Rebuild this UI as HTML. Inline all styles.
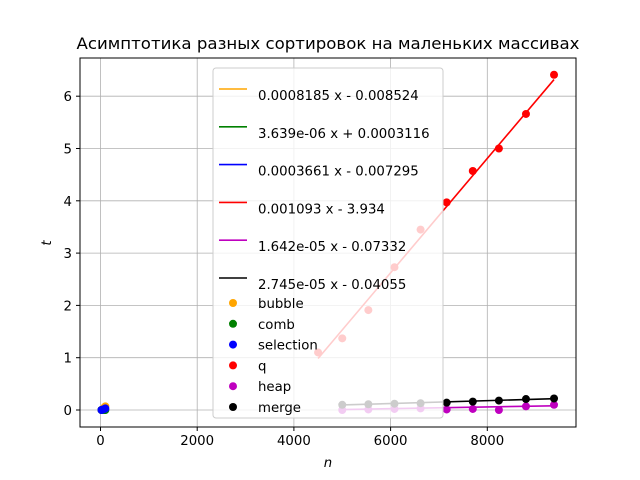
<!DOCTYPE html>
<html><head><meta charset="utf-8"><style>
body{margin:0;background:#fff}
svg{display:block;font-family:"DejaVu Sans","Liberation Sans",sans-serif}
</style></head><body>
<svg id="c" width="640" height="480" viewBox="0 0 640 480"></svg>
<script>
const xTicks=[0,2000,4000,6000,8000];
const yTicks=[0,1,2,3,4,5,6];
const nSmall=[20,50,80,100];
const bubbleT=[0.0,0.02,0.05,0.07];
const combT=[0.0,0.0,0.0,0.0];
const selectionT=[0.0,0.01,0.02,0.03];
const nBig=[4500,5000,5540,6080,6620,7160,7700,8240,8800,9380];
const qT=[1.1,1.37,1.91,2.73,3.45,3.97,4.57,5.0,5.66,6.41];
const nHM=[5000,5540,6080,6620,7160,7700,8240,8800,9380];
const heapT=[0.0,0.01,0.02,0.03,0.01,0.02,0.0,0.07,0.1];
const mergeT=[0.1,0.11,0.12,0.13,0.14,0.16,0.18,0.21,0.22];
const fitLabels=["0.0008185 x - 0.008524","3.639e-06 x + 0.0003116","0.0003661 x - 0.007295","0.001093 x - 3.934","1.642e-05 x - 0.07332","2.745e-05 x - 0.04055"];
const fitA=[0.0008185,3.639e-06,0.0003661,0.001093,1.642e-05,2.745e-05];
const fitB=[-0.008524,0.0003116,-0.007295,-3.934,-0.07332,-0.04055];
const names=["bubble","comb","selection","q","heap","merge"];
const colors=["orange","green","blue","red","#bf00bf","black"];

const L=80,R=576,T=58,B=427;
const sx=v=>100.5+v*(96.7/2000);
const sy=v=>410-v*52.3;
const svg=document.getElementById('c');
const NS="http://www.w3.org/2000/svg";
function el(tag,attrs,name,parent){const e=document.createElementNS(NS,tag);for(const k in attrs)e.setAttribute(k,attrs[k]);


(parent||svg).appendChild(e);return e;}
function txt(x,y,s,name,extra){const t=el('text',Object.assign({x:x,y:y,'font-size':13.3,fill:'#000'},extra||{}),name);t.textContent=s;return t;}

xTicks.forEach(v=>{el('line',{x1:sx(v),x2:sx(v),y1:T,y2:B,stroke:'#b0b0b0','stroke-width':0.8},'x-grid-line');});
yTicks.forEach(v=>{el('line',{x1:L,x2:R,y1:sy(v),y2:sy(v),stroke:'#b0b0b0','stroke-width':0.8},'y-grid-line');});

function dots(xs,ys,col,name){xs.forEach((x,i)=>{el('circle',{cx:sx(x),cy:sy(ys[i]),r:4,fill:col},name+'-point');});}
function fit(i,x0,x1){el('line',{x1:sx(x0),y1:sy(fitA[i]*x0+fitB[i]),x2:sx(x1),y2:sy(fitA[i]*x1+fitB[i]),stroke:colors[i],'stroke-width':1.6},names[i]+'-fit-line');}
fit(0,nSmall[0],nSmall[3]);fit(1,nSmall[0],nSmall[3]);fit(2,nSmall[0],nSmall[3]);
fit(3,nBig[0],nBig[nBig.length-1]);
fit(4,nHM[0],nHM[nHM.length-1]);fit(5,nHM[0],nHM[nHM.length-1]);
dots(nSmall,bubbleT,colors[0],'bubble');
dots(nSmall,combT,colors[1],'comb');
dots(nSmall,selectionT,colors[2],'selection');
dots(nBig,qT,colors[3],'q');
dots(nHM,heapT,colors[4],'heap');
dots(nHM,mergeT,colors[5],'merge');

el('rect',{x:L,y:T,width:R-L,height:B-T,fill:'none',stroke:'#000','stroke-width':1},'plot-frame');
xTicks.forEach(v=>{el('line',{x1:sx(v),x2:sx(v),y1:B,y2:B+4,stroke:'#000'},'x-tick');txt(sx(v),B+18,String(v),'x-tick-label',{'text-anchor':'middle'});});
yTicks.forEach(v=>{el('line',{x1:L-4,x2:L,y1:sy(v),y2:sy(v),stroke:'#000'},'y-tick');txt(L-8,sy(v)+5,String(v),'y-tick-label',{'text-anchor':'end'});});
txt(328,49,"Асимптотика разных сортировок на маленьких массивах",'chart-title',{'text-anchor':'middle','font-size':16,'textLength':503,'lengthAdjust':'spacingAndGlyphs'});
txt(328,467,"n",'x-axis-title',{'text-anchor':'middle','font-style':'italic'});
txt(51,243,"t",'y-axis-title',{'text-anchor':'middle','font-style':'italic',transform:'rotate(-90 51 243)'});

el('rect',{x:213,y:68,width:230,height:350,rx:3,fill:'#fff','fill-opacity':0.8,stroke:'#ccc','stroke-width':1},'legend-box');
fitLabels.forEach((s,i)=>{const y=89+i*37.8;
el('line',{x1:219,x2:247,y1:y,y2:y,stroke:colors[i],'stroke-width':1.6},'legend-line-'+names[i]);
txt(258,y+11,s,'legend-label-fit');});
names.forEach((s,i)=>{const y=303+i*20.8;
el('circle',{cx:233,cy:y,r:4,fill:colors[i]},'legend-marker-'+s);
txt(258,y+5,s,'legend-label-'+s);});
</script>
</body></html>
